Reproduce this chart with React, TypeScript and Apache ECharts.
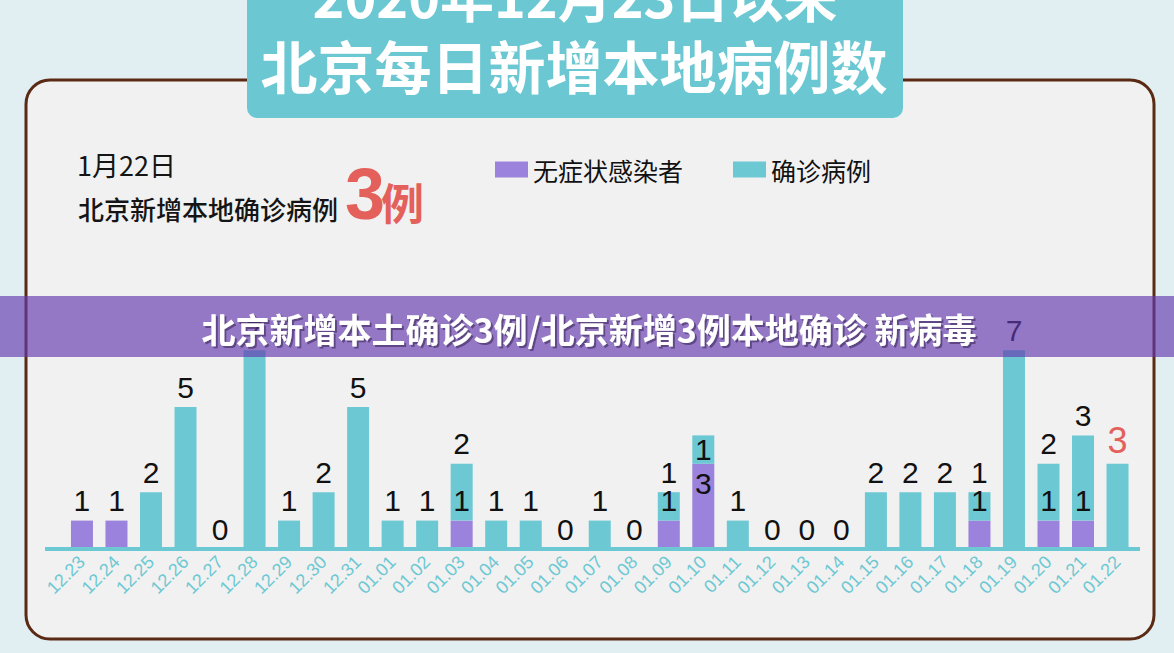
import React, { useEffect, useRef } from "react";
import * as echarts from "echarts";

const categories = [
  "12.23", "12.24", "12.25", "12.26", "12.27", "12.28", "12.29", "12.30", "12.31",
  "01.01", "01.02", "01.03", "01.04", "01.05", "01.06", "01.07", "01.08", "01.09",
  "01.10", "01.11", "01.12", "01.13", "01.14", "01.15", "01.16", "01.17", "01.18",
  "01.19", "01.20", "01.21", "01.22",
];
const asymptomatic = [1, 1, 0, 0, 0, 0, 0, 0, 0, 0, 0, 1, 0, 0, 0, 0, 0, 1, 3, 0, 0, 0, 0, 0, 0, 0, 1, 0, 1, 1, 0];
const confirmed = [0, 0, 2, 5, 0, 7, 1, 2, 5, 1, 1, 2, 1, 1, 0, 1, 0, 1, 1, 1, 0, 0, 0, 2, 2, 2, 1, 7, 2, 3, 3];
const seriesNames = ["无症状感染者", "确诊病例"];
const titleLine1 = "2020年12月23日以来";
const titleLine2 = "北京每日新增本地病例数";
const headerDate = "1月22日";
const headerText = "北京新增本地确诊病例";
const headerNum = "3";
const headerUnit = "例";
const overlayText = "北京新增本土确诊3例/北京新增3例本地确诊 新病毒";
const insideDays = ["01.10"];
const highlightDay = "01.22";

const PURPLE = "#9b82dc";
const TEAL = "#6cc8d3";
const RED = "#e4605a";
const CJK = '"Noto Sans CJK SC"';

export default function App() {
  const ref = useRef<HTMLDivElement>(null);
  useEffect(() => {
    document.body.style.margin = "0";
    const chart = echarts.init(ref.current!, null, { renderer: "svg" });
    const labelBase = { show: true, position: "top", distance: 5, color: "#111", fontSize: 30, fontFamily: "Liberation Sans" };
    const asymData = asymptomatic.map((v, i) => {
      const inside = insideDays.includes(categories[i]);
      return {
        value: v,
        label: { ...labelBase, show: v > 0, position: inside ? "insideTop" : "top" },
      };
    });
    const confData = confirmed.map((v, i) => {
      const inside = insideDays.includes(categories[i]);
      const both0 = v === 0 && asymptomatic[i] === 0;
      const hl = categories[i] === highlightDay;
      return {
        value: v,
        label: {
          ...labelBase,
          show: v > 0 || both0,
          position: inside ? "inside" : "top",
          ...(hl ? { color: RED, fontSize: 36 } : {}),
        },
      };
    });
    chart.setOption({
      animation: false,
      backgroundColor: "#e2eff2",
      legend: {
        left: 490,
        top: 152,
        itemWidth: 33,
        itemHeight: 16,
        itemGap: 50,
        icon: "rect",
        textStyle: { fontSize: 25, fontFamily: CJK, color: "#111" },
        data: seriesNames,
      },
      grid: { left: 64.7, right: 39.2, top: 265, bottom: 104 },
      xAxis: {
        type: "category",
        data: categories,
        axisLine: { show: false },
        axisTick: { show: false },
        axisLabel: {
          rotate: 45,
          color: TEAL,
          fontSize: 18,
          fontFamily: "Liberation Sans",
          margin: 10,
          interval: 0,
        },
      },
      yAxis: { type: "value", min: 0, max: 10, show: false },
      series: [
        { name: seriesNames[0], type: "bar", stack: "a", barWidth: 22, itemStyle: { color: PURPLE }, data: asymData },
        { name: seriesNames[1], type: "bar", stack: "a", barWidth: 22, itemStyle: { color: TEAL }, data: confData },
      ],
      graphic: [
        {
          type: "rect",
          z: -10,
          shape: { x: 26, y: 80, width: 1128, height: 559, r: 24 },
          style: { fill: "#f1f1f1", stroke: "#5b2a15", lineWidth: 3 },
        },
        {
          type: "line",
          z: 5,
          shape: { x1: 45, y1: 549, x2: 1140, y2: 549 },
          style: { stroke: TEAL, lineWidth: 4 },
        },
        {
          type: "rect",
          z: 10,
          shape: { x: 247, y: -20, width: 656, height: 138, r: 10 },
          style: { fill: "#6bc8d2" },
        },
        {
          type: "text",
          z: 11,
          style: {
            text: titleLine1, x: 575, y: -6, textAlign: "center", textVerticalAlign: "middle",
            font: `bold 54px ${CJK}`, fill: "#fff",
            textShadowColor: "#8fb0b4", textShadowOffsetX: 2, textShadowOffsetY: 3, textShadowBlur: 0,
          },
        },
        {
          type: "text",
          z: 11,
          style: {
            text: titleLine2, x: 574, y: 64, textAlign: "center", textVerticalAlign: "middle",
            font: `bold 57px ${CJK}`, fill: "#fff",
            textShadowColor: "#8fb0b4", textShadowOffsetX: 2, textShadowOffsetY: 3, textShadowBlur: 0,
          },
        },
        {
          type: "text",
          z: 11,
          style: { text: headerDate, x: 77, y: 164, textVerticalAlign: "middle", font: `27px ${CJK}`, fill: "#151515" },
        },
        {
          type: "text",
          z: 11,
          style: { text: headerText, x: 78, y: 208, textVerticalAlign: "middle", font: `500 26px ${CJK}`, fill: "#151515" },
        },
        {
          type: "text",
          z: 11,
          style: { text: headerNum, x: 345, y: 194, textVerticalAlign: "middle", font: `bold 72px "Liberation Sans"`, fill: RED },
        },
        {
          type: "text",
          z: 11,
          style: { text: headerUnit, x: 381, y: 201, textVerticalAlign: "middle", font: `bold 43px ${CJK}`, fill: RED },
        },
        {
          type: "rect",
          z: 100,
          shape: { x: 0, y: 296, width: 1174, height: 61 },
          style: { fill: "rgba(100,57,175,0.66)" },
        },
        {
          type: "text",
          z: 101,
          style: {
            text: overlayText, x: 589, y: 328, textAlign: "center", textVerticalAlign: "middle",
            font: `bold 34px ${CJK}`, fill: "#fff",
            textShadowColor: "rgba(60,40,90,0.6)", textShadowOffsetX: 2, textShadowOffsetY: 2, textShadowBlur: 1,
          },
        },
      ],
    });
    return () => chart.dispose();
  }, []);
  return <div ref={ref} style={{ width: 1174, height: 653 }} />;
}
